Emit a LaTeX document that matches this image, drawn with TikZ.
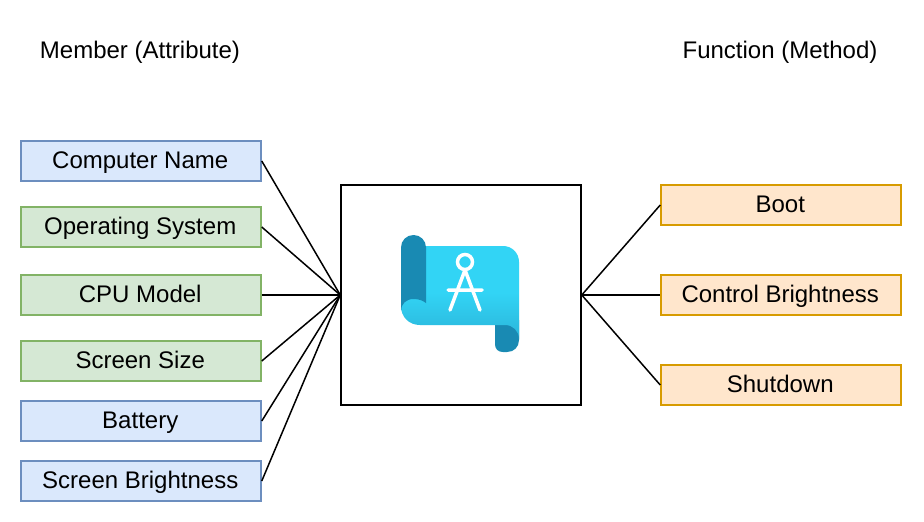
\documentclass[tikz,border=0pt]{standalone}
\usepackage{fontspec}
\setmainfont{Liberation Sans}
\definecolor{blueF}{HTML}{DAE8FC}\definecolor{blueD}{HTML}{6C8EBF}
\definecolor{greenF}{HTML}{D5E8D4}\definecolor{greenD}{HTML}{82B366}
\definecolor{orangeF}{HTML}{FFE6CC}\definecolor{orangeD}{HTML}{D79B00}
\definecolor{rollC}{HTML}{198AB3}\definecolor{bodyC}{HTML}{32D4F5}\definecolor{bodyB}{HTML}{2BB5DA}
\tikzset{
  item/.style={draw,line width=1.5pt,minimum width=240pt,minimum height=40pt,inner sep=0pt,text height=15pt,text depth=0pt,anchor=center,font=\fontsize{24}{28}\selectfont},
  bluebox/.style={item,fill=blueF,draw=blueD},
  greenbox/.style={item,fill=greenF,draw=greenD},
  orangebox/.style={item,fill=orangeF,draw=orangeD},
  heading/.style={inner sep=0pt,text height=17pt,text depth=0pt,font=\fontsize{24}{28}\selectfont},
  link/.style={line width=1.5pt,black},
  glyph/.style={white,line width=3.5pt}
}
\begin{document}
\begin{tikzpicture}[x=1pt,y=-1pt]
\useasboundingbox (0,0) rectangle (924,522);
\fill[white] (0,0) rectangle (924,522);
\node[heading] (hm) at (140,50) {Member (Attribute)};
\node[heading] (hf) at (780,50) {Function (Method)};
\node[draw,line width=1.5pt,minimum width=240pt,minimum height=220pt,inner sep=0pt] (main) at (461,295) {};
\node[bluebox] (a) at (141,161) {\hspace*{-1.5pt}Computer Name};
\node[greenbox] (b) at (141,227) {\hspace*{-1.5pt}Operating System};
\node[greenbox] (c) at (141,295) {\hspace*{-1.5pt}CPU Model};
\node[greenbox] (d) at (141,361) {\hspace*{-1.5pt}Screen Size};
\node[bluebox] (e) at (141,421) {\hspace*{-1.5pt}Battery};
\node[bluebox] (f) at (141,481) {\hspace*{-1.5pt}Screen Brightness};
\node[orangebox] (p) at (781,205) {\hspace*{-1.5pt}Boot};
\node[orangebox] (q) at (781,295) {\hspace*{-1.5pt}Control Brightness};
\node[orangebox] (r) at (781,385) {\hspace*{-1.5pt}Shutdown};
\foreach \n in {a,b,c,d,e,f} \draw[link] (\n.east) -- (main.west);
\foreach \n in {p,q,r} \draw[link] (main.east) -- (\n.west);
% icon
\fill[rollC] (495,320) -- (495,344) .. controls (495,349) and (498,352) .. (503,352) -- (507,352)
  .. controls (514,352) and (519,347) .. (519,340) -- (519,320) -- cycle;
\shade[top color=bodyC,bottom color=bodyB,middle color=bodyC]
  (410,246) -- (503,246) .. controls (512,246) and (519,253) .. (519,262) -- (519,339)
  .. controls (519,331) and (513,325) .. (505,325) -- (420,325)
  .. controls (409,325) and (401,317) .. (401,306) -- (401,260) -- cycle;
\fill[rollC] (401,247.5) .. controls (401,240.5) and (406.5,235) .. (413.5,235)
  .. controls (420.5,235) and (426,240.5) .. (426,247.5) -- (426,303)
  .. controls (423,301) and (420,299) .. (413.5,299) .. controls (406,299) and (401,304) .. (401,311) -- cycle;
\draw[glyph] (465,262) circle[radius=7.5];
\draw[glyph,line cap=round] (465,270) -- (450,310) (465,270) -- (480,310) (448,290) -- (482,290);
\end{tikzpicture}
\end{document}
